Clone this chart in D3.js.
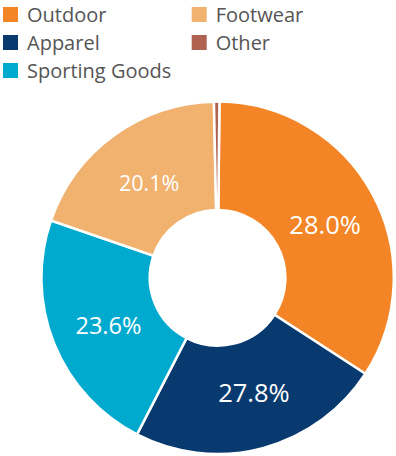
<!DOCTYPE html>
<html>
<head>
<meta charset="utf-8">
<script src="https://cdn.jsdelivr.net/npm/d3@7"></script>
<style>
  html, body { margin: 0; padding: 0; background: #fff; }
  svg { display: block; }
  text { font-family: "Open Sans", "Noto Sans", sans-serif; }
</style>
</head>
<body>
<svg id="chart" width="396" height="456"></svg>
<script>
// Categories in drawing order (clockwise from 12 o'clock)
const categories = ["Outdoor", "Apparel", "Sporting Goods", "Footwear", "Other"];
// Slice sizes as drawn in the picture (share of the ring, %)
const sliceShares = [34.0, 23.4, 22.7, 19.4, 0.5];
// Percentage labels printed on the slices
const percentLabels = ["28.0%", "27.8%", "23.6%", "20.1%", ""];
const colors = ["#F38526", "#083A70", "#00AACE", "#F0B26E", "#B06250"];
// Legend order (two columns, row-major)
const legendOrder = ["Outdoor", "Footwear", "Apparel", "Other", "Sporting Goods"];

const svg = d3.select("#chart");
const cx = 217.6, cy = 277.8;
const outerR = 176.2, innerR = 67.8;

const color = d3.scaleOrdinal().domain(categories).range(colors);

const data = categories.map((c, i) => ({ name: c, value: sliceShares[i], label: percentLabels[i] }));

const startDeg = 0.6;
const pie = d3.pie().value(d => d.value).sort(null)
  .startAngle(startDeg * Math.PI / 180)
  .endAngle((startDeg + 360) * Math.PI / 180);

const arc = d3.arc().innerRadius(innerR).outerRadius(outerR);
const labelArc = d3.arc().innerRadius(122).outerRadius(122);

const g = svg.append("g").attr("transform", `translate(${cx},${cy})`);
const arcs = pie(data);

g.selectAll("path.slice").data(arcs).enter().append("path")
  .attr("class", "slice")
  .attr("d", arc)
  .attr("fill", d => color(d.data.name))
  .attr("stroke", "#fff")
  .attr("stroke-width", 2.5)
  .attr("stroke-linejoin", "miter");

const labelSize = { "Outdoor": 25.5, "Apparel": 25.5, "Sporting Goods": 23.5, "Footwear": 21.5 };
const labelShift = { "Outdoor": [0, 5], "Apparel": [5, -3], "Sporting Goods": [4, 2], "Footwear": [3.5, 4] };

g.selectAll("text.pct").data(arcs.filter(d => d.data.label)).enter().append("text")
  .attr("class", "pct")
  .attr("x", d => labelArc.centroid(d)[0] + labelShift[d.data.name][0])
  .attr("y", d => labelArc.centroid(d)[1] + labelShift[d.data.name][1])
  .attr("dy", "0.36em")
  .attr("text-anchor", "middle")
  .attr("fill", "#fff")
  .attr("font-size", d => labelSize[d.data.name] + "px")
  .text(d => d.data.label);

// Legend
const colX = [3, 191.7];
const rowY = d3.scalePoint().domain([0, 1, 2]).range([7, 63]);
const legend = svg.append("g");
legendOrder.forEach((name, i) => {
  const col = i % 2, row = Math.floor(i / 2);
  const x = colX[col], y = rowY(row);
  legend.append("rect")
    .attr("x", x).attr("y", y).attr("width", 15).attr("height", 15)
    .attr("fill", color(name));
  legend.append("text")
    .attr("x", x + 24).attr("y", y + 15)
    .attr("font-size", "20px")
    .attr("fill", "#555")
    .text(name);
});
</script>
</body>
</html>
